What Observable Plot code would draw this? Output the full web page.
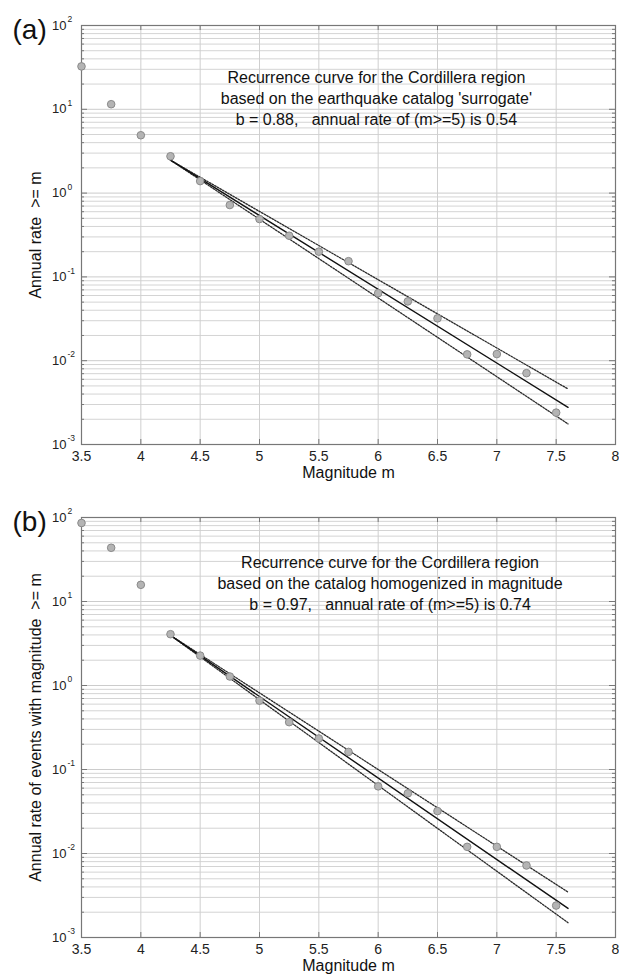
<!DOCTYPE html>
<html><head><meta charset="utf-8">
<script src="https://cdn.jsdelivr.net/npm/d3@7"></script>
<script src="https://cdn.jsdelivr.net/npm/@observablehq/plot@0.6"></script>
<style>
body{margin:0;background:#fff;font-family:"Liberation Sans",Arial,Helvetica,sans-serif}
#chart{width:619px}
#chart svg{display:block;font-family:"Liberation Sans",Arial,Helvetica,sans-serif}
</style>
</head><body><div id="chart"></div>
<script>
// ---- data ----
const magnitudes = [3.5,3.75,4.0,4.25,4.5,4.75,5.0,5.25,5.5,5.75,6.0,6.25,6.5,6.75,7.0,7.25,7.5];
const ratesA = [32.5,11.5,4.9,2.75,1.39,0.72,0.49,0.31,0.20,0.154,0.064,0.051,0.032,0.0119,0.012,0.0071,0.0024];
const ratesB = [86,43.6,15.8,4.08,2.27,1.28,0.66,0.366,0.234,0.162,0.063,0.052,0.032,0.012,0.012,0.0072,0.0024];
const fitMag = [4.25, 7.6];
const fitCenterA = [2.47, 0.00278];
const fitUpperA  = [2.47, 0.0046];
const fitLowerA  = [2.47, 0.00176];
const fitCenterB = [3.95, 0.00222];
const fitUpperB  = [3.95, 0.00347];
const fitLowerB  = [3.95, 0.0015];
const xTicks = [3.5,4,4.5,5,5.5,6,6.5,7,7.5,8];
const yTicks = [1e-3,1e-2,1e-1,1,10,100];
const yExponents = ["-3","-2","-1","0","1","2"];
const minorGrid = [];
for (let e = -3; e < 2; e++) for (let k = 2; k <= 9; k++) minorGrid.push(k * Math.pow(10, e));
const textA = "Recurrence curve for the Cordillera region\nbased on the earthquake catalog 'surrogate'\nb = 0.88,   annual rate of (m>=5) is 0.54";
const textB = "Recurrence curve for the Cordillera region\nbased on the catalog homogenized in magnitude\nb = 0.97,   annual rate of (m>=5) is 0.74";
const panels = [
  {tag:"(a)", rates:ratesA, center:fitCenterA, upper:fitUpperA, lower:fitLowerA, note:textA, noteX:5.985, noteY:13.9, ylabel:"Annual rate  >= m", mt:25, mb:46},
  {tag:"(b)", rates:ratesB, center:fitCenterB, upper:fitUpperB, lower:fitLowerB, note:textB, noteX:6.10, noteY:16.8, ylabel:"Annual rate of events with magnitude  >= m", mt:27, mb:43}
];

function panel(p) {
  const pts = magnitudes.map((m, i) => ({m, r: p.rates[i]}));
  const ln = arr => fitMag.map((m, i) => ({m, r: arr[i]}));
  const innerW = 619 - 81 - 4;
  const innerH = 490 - p.mt - p.mb;
  const tickColor = "#777";
  return Plot.plot({
    width: 619, height: 490,
    marginLeft: 81, marginRight: 4, marginTop: p.mt, marginBottom: p.mb,
    style: {fontFamily: '"Liberation Sans",Arial,sans-serif', background: "#fff"},
    x: {domain: [3.5, 8]},
    y: {type: "log", domain: [1e-3, 1e2]},
    marks: [
      Plot.ruleY(minorGrid, {stroke: "#d4d4d4", strokeWidth: 1}),
      Plot.ruleY(yTicks, {stroke: "#cccccc", strokeWidth: 1}),
      Plot.ruleX(xTicks, {stroke: "#cfcfcf", strokeWidth: 1}),
      // inward ticks on all four sides
      Plot.ruleY(yTicks, {insetLeft: innerW - 6, stroke: tickColor}),
      Plot.ruleY(minorGrid, {insetLeft: innerW - 3, stroke: tickColor}),
      Plot.ruleY(yTicks, {insetRight: innerW - 6, stroke: tickColor}),
      Plot.ruleY(minorGrid, {insetRight: innerW - 3, stroke: tickColor}),
      Plot.ruleX(xTicks, {insetTop: innerH - 5, stroke: tickColor}),
      Plot.ruleX(xTicks, {insetBottom: innerH - 5, stroke: tickColor}),
      Plot.frame({stroke: "#777", strokeWidth: 1.2}),
      Plot.axisX(xTicks, {anchor: "bottom", tickSize: 0, tickPadding: 7, fontSize: 14, fill: "#222", label: null, tickFormat: d => String(d)}),
      Plot.axisY(yTicks, {anchor: "left", tickSize: 0, tickPadding: 15, fontSize: 13, fill: "#222", label: null, tickFormat: () => "10"}),
      Plot.text(yTicks, {y: d => d, text: (d, i) => yExponents[i], frameAnchor: "left", textAnchor: "start", dx: -14, dy: -6, fontSize: 8.5, fill: "#222"}),
      Plot.line(ln(p.upper), {x: "m", y: "r", stroke: "#2a2a2a", strokeWidth: 1.3, strokeDasharray: "1.6,1.4"}),
      Plot.line(ln(p.lower), {x: "m", y: "r", stroke: "#2a2a2a", strokeWidth: 1.3, strokeDasharray: "1.6,1.4"}),
      Plot.line(ln(p.center), {x: "m", y: "r", stroke: "#111", strokeWidth: 1.4}),
      Plot.dot(pts, {x: "m", y: "r", r: 3.8, fill: "#b4b4b4", stroke: "#8a8a8a", strokeWidth: 1}),
      Plot.text([p.note], {x: p.noteX, y: p.noteY, text: d => d, lineHeight: 1.3, fontSize: 16, fill: "#111"}),
      Plot.text([p.tag], {frameAnchor: "top-left", textAnchor: "start", lineAnchor: "middle", dx: -69, dy: 5, fontSize: 28, fill: "#111"}),
      Plot.text([p.ylabel], {frameAnchor: "left", textAnchor: "middle", rotate: -90, dx: -46, fontSize: 16, fill: "#111"}),
      Plot.text(["Magnitude m"], {frameAnchor: "bottom", dy: 33, fontSize: 16, fill: "#111"})
    ]
  });
}
const root = document.getElementById("chart");
panels.forEach(p => root.appendChild(panel(p)));
</script>
</body></html>
